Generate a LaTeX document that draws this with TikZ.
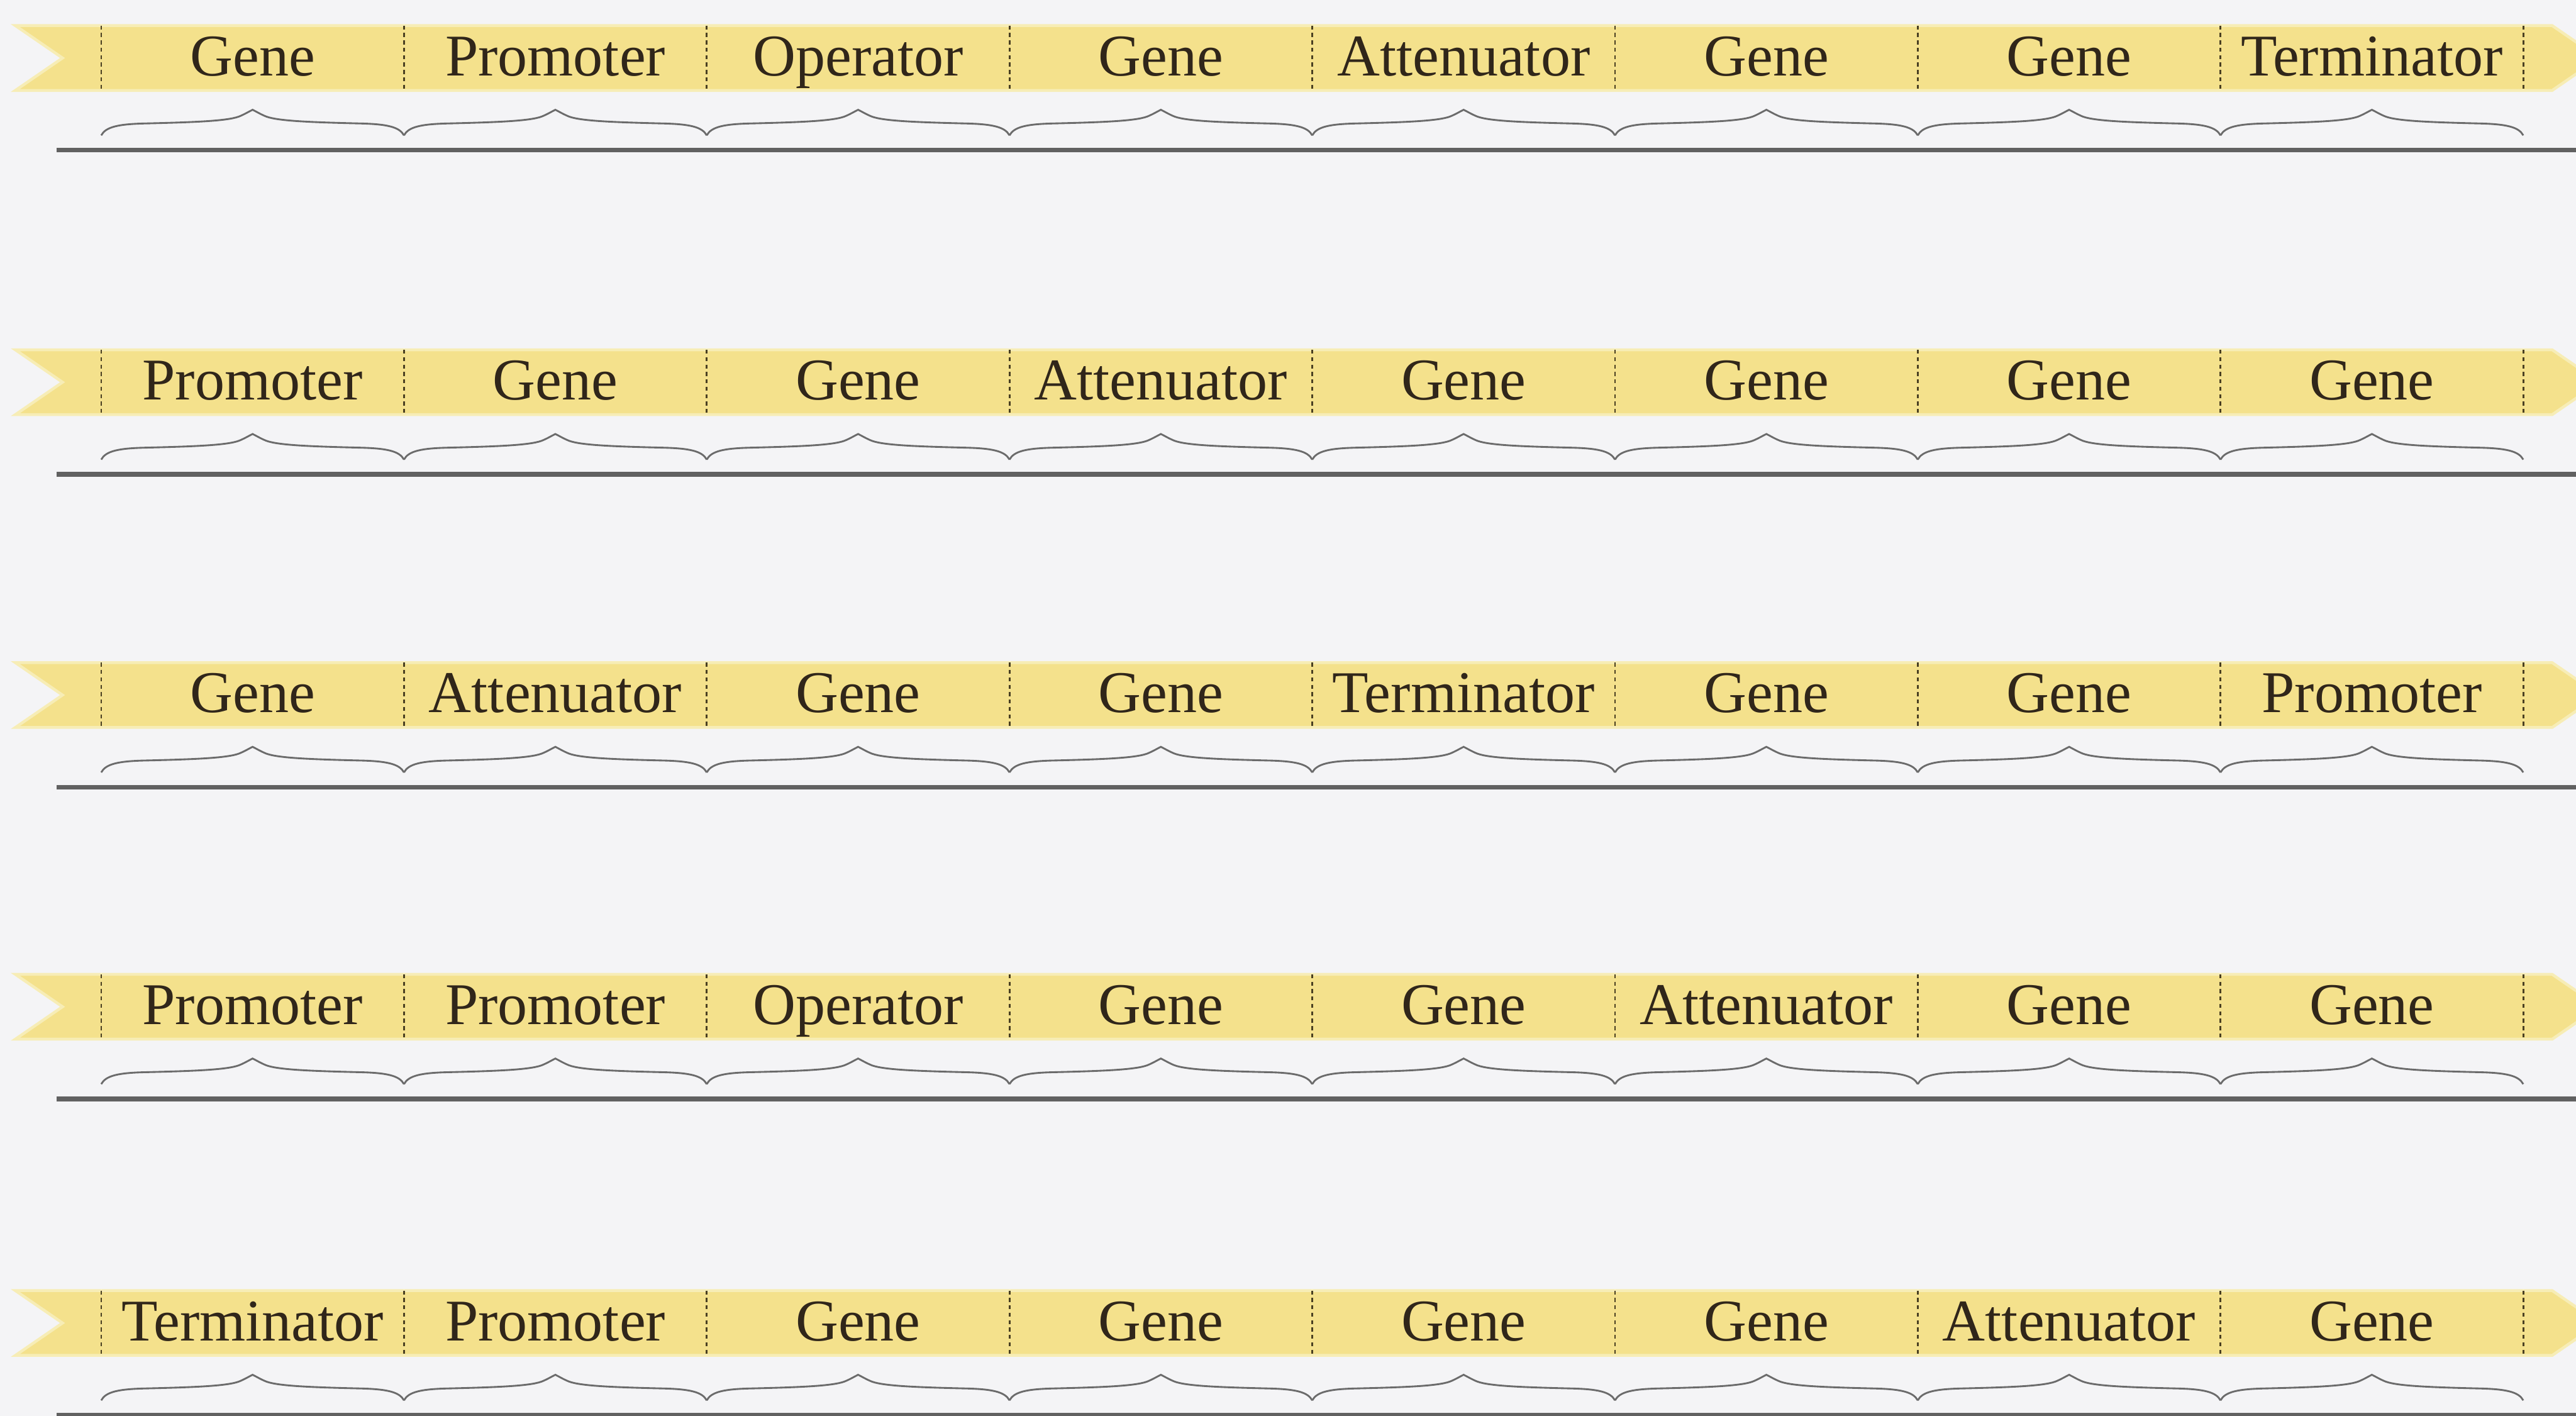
\documentclass[tikz,border=0pt]{standalone}
\usepackage{fontspec}
\setmainfont{Liberation Serif}

\definecolor{bandyellow}{HTML}{F4E18C}
\definecolor{bandedge}{HTML}{F7EDB6}
\definecolor{inkbrown}{HTML}{30261A}
\definecolor{paper}{HTML}{F4F4F6}
\definecolor{dashink}{HTML}{4A4022}

\begin{document}
\begin{tikzpicture}[
    band/.style={fill=bandyellow, draw=bandedge, line width=0.05cm},
    part/.style={anchor=base, text=inkbrown, inner sep=0pt,
      font=\fontsize{29.6}{36}\selectfont},
    divider/.style={draw=dashink, line width=0.03cm, dash pattern=on 0.07cm off 0.06cm},
    curly/.style={draw=black!58, line width=0.9pt, line join=miter},
    seqline/.style={draw=black!62, line width=0.08cm},
    % a long flat brace over one part, tip up
    segbrace/.pic={
      \draw[curly] (0,0) .. controls (0.08,0.15) and (0.3,0.2) .. (0.8,0.21)
        .. controls (1.6,0.23) and (2.2,0.25) .. (2.42,0.33)
        .. controls (2.52,0.37) and (2.6,0.42) .. (2.662,0.45)
        .. controls (2.724,0.42) and (2.804,0.37) .. (2.904,0.33)
        .. controls (3.124,0.25) and (3.724,0.23) .. (4.524,0.21)
        .. controls (5.024,0.2) and (5.244,0.15) .. (5.324,0);
    }
  ]
  \fill[paper] (0,0) rectangle (45.30,-24.89);
  \useasboundingbox (0,0) rectangle (45.30,-24.89);

  % one strand per row: row number / centre line / parts from left to right
  \foreach \r/\yc/\parts in {
      1/-1.02/{Gene,Promoter,Operator,Gene,Attenuator,Gene,Gene,Terminator},
      2/-6.72/{Promoter,Gene,Gene,Attenuator,Gene,Gene,Gene,Gene},
      3/-12.22/{Gene,Attenuator,Gene,Gene,Terminator,Gene,Gene,Promoter},
      4/-17.70/{Promoter,Promoter,Operator,Gene,Gene,Attenuator,Gene,Gene},
      5/-23.26/{Terminator,Promoter,Gene,Gene,Gene,Gene,Attenuator,Gene}} {
    % the ribbon, notched at the left and pointed at the right
    \path[band] (0.27,\yc+0.57) -- (44.88,\yc+0.57) -- (45.71,\yc)
      -- (44.88,\yc-0.57) -- (0.27,\yc-0.57) -- (1.10,\yc) -- cycle;
    % the sequence underneath
    \coordinate (s\r a) at (1.00,\yc-1.62);
    \coordinate (s\r b) at (45.30,\yc-1.62);
    \draw[seqline] (s\r a) -- (s\r b);
    % boundaries between the parts
    \foreach \k in {0,...,8} {
      \coordinate (t\r-\k) at ({1.78+5.324*\k},\yc+0.57);
      \coordinate (b\r-\k) at ({1.78+5.324*\k},\yc-0.57);
      \coordinate (c\r-\k) at ({1.78+5.324*\k},\yc-1.36);
      \draw[divider] (t\r-\k) -- (b\r-\k);
    }
    % labels and braces
    \foreach \name [count=\i, evaluate=\i as \j using int(\i-1)] in \parts {
      \node[part] (p\r-\i) at ({1.78+5.324*(\i-0.5)},\yc-0.31) {\name};
      \pic at (c\r-\j) {segbrace};
    }
  }
\end{tikzpicture}
\end{document}
